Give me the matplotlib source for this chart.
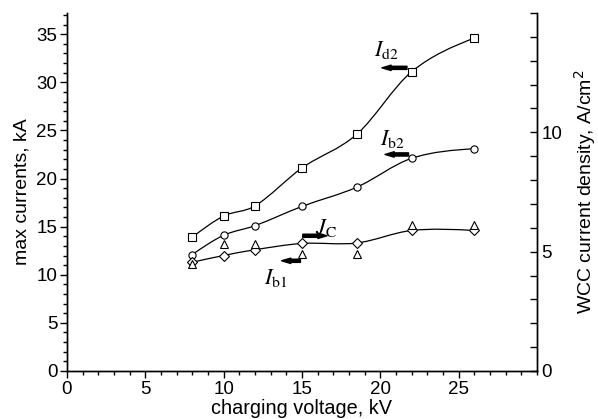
import numpy as np
import matplotlib
matplotlib.use('Agg')
import matplotlib.pyplot as plt
from matplotlib.path import Path
from matplotlib.patches import PathPatch
from matplotlib.ticker import MultipleLocator

plt.rcParams['font.family'] = ['Liberation Sans', 'DejaVu Sans']
plt.rcParams['mathtext.fontset'] = 'stix'

# charging voltage, kV
voltage = [8, 10, 12, 15, 18.5, 22, 26]
# max currents, kA (left axis)
Id2 = [13.9, 16.1, 17.15, 21.1, 24.6, 31.1, 34.6]
Ib2 = [12.1, 14.1, 15.1, 17.1, 19.1, 22.1, 23.1]
Ib1 = [11.3, 12.0, 12.6, 13.25, 13.3, 14.6, 14.6]
# WCC current density, A/cm^2 (right axis)
Jc = [4.5, 5.3, 5.3, 4.9, 4.9, 6.1, 6.1]


def smooth_path(x, y):
    # cubic Hermite curve y(x) through the points, as Bezier segments
    x = np.asarray(x, float)
    y = np.asarray(y, float)
    n = len(x)
    m = np.empty(n)
    m[1:-1] = (y[2:] - y[:-2]) / (x[2:] - x[:-2])
    m[0] = 1.5 * (y[1] - y[0]) / (x[1] - x[0]) - 0.5 * m[1]
    m[-1] = 1.5 * (y[-1] - y[-2]) / (x[-1] - x[-2]) - 0.5 * m[-2]
    verts = [(x[0], y[0])]
    codes = [Path.MOVETO]
    for i in range(n - 1):
        h = x[i + 1] - x[i]
        verts += [(x[i] + h / 3, y[i] + m[i] * h / 3),
                  (x[i + 1] - h / 3, y[i + 1] - m[i + 1] * h / 3),
                  (x[i + 1], y[i + 1])]
        codes += [Path.CURVE4] * 3
    return Path(verts, codes)


fig = plt.figure(figsize=(5.98, 4.19), dpi=100)
ax = fig.add_axes([0.112, 0.1146, 0.786, 0.8544])
ax2 = ax.twinx()

for ys, mk in [(Id2, 's'), (Ib2, 'o'), (Ib1, 'D')]:
    ax.add_patch(PathPatch(smooth_path(voltage, ys), fill=False, lw=0.9, color='black'))
    ax.plot(voltage, ys, ls='none', marker=mk, ms=5.2 if mk != 'D' else 4.8,
            mfc='white', mec='black', mew=0.8, zorder=3)

ax2.plot(voltage, Jc, ls='none', marker='^', ms=5.5, mfc='white', mec='black', mew=0.8, zorder=2)

ax.set_xlim(0, 30)
ax.set_ylim(0, 37.2)
ax2.set_ylim(0, 15)

ax.xaxis.set_minor_locator(MultipleLocator(1))
ax.yaxis.set_major_locator(MultipleLocator(5))
ax.yaxis.set_minor_locator(MultipleLocator(1))
ax.set_xticks([0, 5, 10, 15, 20, 25])
ax2.set_yticks([0, 5, 10, 15])
ax2.set_yticklabels(['0', '5', '10', ''])
ax2.yaxis.set_minor_locator(MultipleLocator(1))

fs = 13.5
ax.tick_params(axis='both', which='major', direction='out', length=5, width=1, labelsize=fs, pad=2)
ax.tick_params(axis='both', which='minor', direction='out', length=3, width=1)
ax2.tick_params(axis='y', which='major', direction='in', length=5, width=1, labelsize=fs, pad=3)
ax2.tick_params(axis='y', which='minor', direction='in', length=5, width=1)

for a in (ax, ax2):
    a.spines['top'].set_visible(False)
    for s in ('left', 'right', 'bottom'):
        a.spines[s].set_linewidth(1)

ax.set_xlabel('charging voltage, kV', fontsize=14.3, labelpad=1)
ax.set_ylabel('max currents, kA', fontsize=14, labelpad=4)
ax2.set_ylabel('WCC current density, A/cm$^{\\rm 2}$', fontsize=14, labelpad=7,
               math_fontfamily='dejavusans')

arrow = dict(arrowstyle='simple,head_length=1.1,head_width=0.65,tail_width=0.38',
             color='black', shrinkA=0, shrinkB=0, mutation_scale=6)
labels = [
    (r'$I_{\rm d2}$', (19.6, 32.7), (21.7, 31.5), (20.1, 31.5)),
    (r'$I_{\rm b2}$', (20.0, 23.5), (21.8, 22.5), (20.3, 22.5)),
    (r'$J_{\rm C}$', (15.8, 14.2), (15.05, 14.05), (16.6, 14.05)),
    (r'$I_{\rm b1}$', (12.6, 9.05), (14.9, 11.45), (13.7, 11.45)),
]
for txt, pos, tail, head in labels:
    ax.text(pos[0], pos[1], txt, fontsize=16, ha='left', va='baseline')
    ax.annotate('', xy=head, xytext=tail, arrowprops=arrow)

fig.savefig('out.png', dpi=100)
